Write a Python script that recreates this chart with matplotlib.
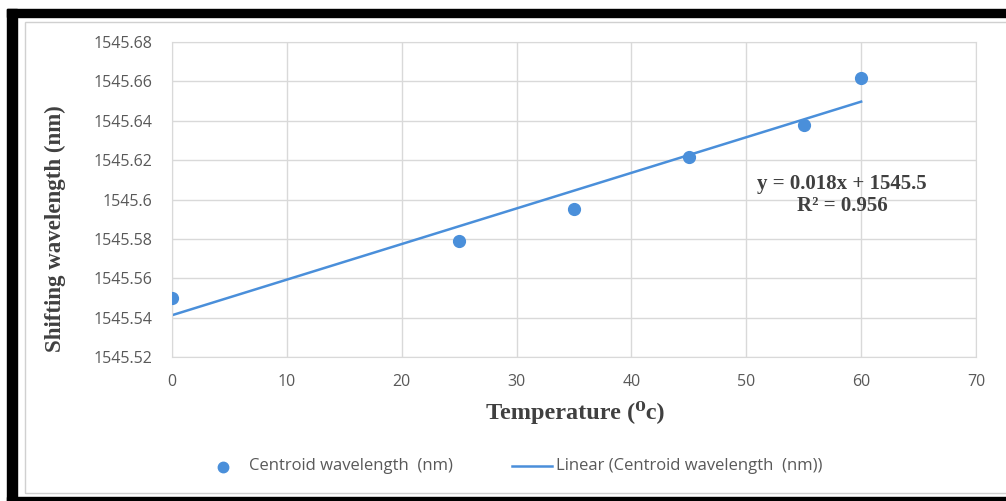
import numpy as np
import matplotlib
matplotlib.use('Agg')
import matplotlib.pyplot as plt
from matplotlib.patches import Rectangle
from matplotlib.lines import Line2D

# data
temperature = [0, 25, 35, 45, 55, 60]
wavelength = [1545.550, 1545.579, 1545.595, 1545.6215, 1545.638, 1545.6616]
xticks = [0, 10, 20, 30, 40, 50, 60, 70]
yticks = [1545.52, 1545.54, 1545.56, 1545.58, 1545.60, 1545.62, 1545.64, 1545.66, 1545.68]
ytick_labels = ['1545.52', '1545.54', '1545.56', '1545.58', '1545.6',
                '1545.62', '1545.64', '1545.66', '1545.68']
eq_text = 'y = 0.018x + 1545.5\nR² = 0.956'

blue = '#4A8FDA'
grid = '#d9d9d9'
tick_col = '#595959'
serif = ['Liberation Serif', 'DejaVu Serif']
sans = ['Open Sans', 'DejaVu Sans']

fig = plt.figure(figsize=(10.06, 5.01), dpi=100)
W, H = 1006, 501

# outer black frame and inner chart border
fig.patches.append(Rectangle((7/W, 0), 10/W, 1 - 9/H, transform=fig.transFigure,
                             color='black', zorder=0))
fig.patches.append(Rectangle((7/W, 1 - 17/H), 1, 8/H, transform=fig.transFigure,
                             color='black', zorder=0))
fig.patches.append(Rectangle((7/W, 0), 1, 4/H, transform=fig.transFigure,
                             color='black', zorder=0))
fig.patches.append(Rectangle((25/W, 8/H), 1, 1 - 30/H, transform=fig.transFigure,
                             fill=False, edgecolor='#d0d0d0', lw=1, zorder=1))

ax = fig.add_axes([172/W, 1 - 357/H, (976 - 172)/W, (357 - 42)/H])
ax.set_xlim(0, 70)
ax.set_ylim(1545.52, 1545.68)
ax.set_xticks(xticks)
ax.set_yticks(yticks)
ax.set_yticklabels(ytick_labels)
ax.grid(True, color=grid, lw=1)
ax.set_axisbelow(True)
for s in ax.spines.values():
    s.set_color(grid)
ax.tick_params(length=0, colors=tick_col, labelsize=11.5)
ax.tick_params(axis='x', pad=12)
ax.tick_params(axis='y', pad=14)
for lab in ax.get_xticklabels() + ax.get_yticklabels():
    lab.set_family(sans)

# linear trend line
slope, icpt = np.polyfit(temperature, wavelength, 1)
xs = np.array([temperature[0], temperature[-1]])
ax.plot(xs, slope * xs + icpt, color=blue, lw=1.8, zorder=2)
ax.plot(temperature, wavelength, 'o', color=blue, ms=8.5, zorder=3)

ax.text(842/W, 1 - 195/H, eq_text, transform=fig.transFigure, ha='center', va='center',
        family=serif, weight='bold', fontsize=15, color='#404040', linespacing=1.1)

fig.text(55/W, 1 - 229/H, 'Shifting wavelength (nm)', rotation=90, ha='center', va='center',
         family=serif, weight='bold', fontsize=16.5, color='#404040')
fig.text(575/W, 1 - 412/H, 'Temperature (⁰c)', ha='center', va='center',
         family=serif, weight='bold', fontsize=17.5, color='#404040')

# legend
fig.lines.append(Line2D([223/W], [1 - 467/H], marker='o', color=blue, ms=7.5,
                        transform=fig.transFigure))
fig.text(249/W, 1 - 466/H, 'Centroid wavelength  (nm)', ha='left', va='center',
         family=sans, fontsize=12, color=tick_col)
fig.lines.append(Line2D([512/W, 552/W], [1 - 466/H, 1 - 466/H], color=blue, lw=1.8,
                        transform=fig.transFigure))
fig.text(556/W, 1 - 466/H, 'Linear (Centroid wavelength  (nm))', ha='left', va='center',
         family=sans, fontsize=12, color=tick_col)

fig.savefig('out.png', dpi=100)
